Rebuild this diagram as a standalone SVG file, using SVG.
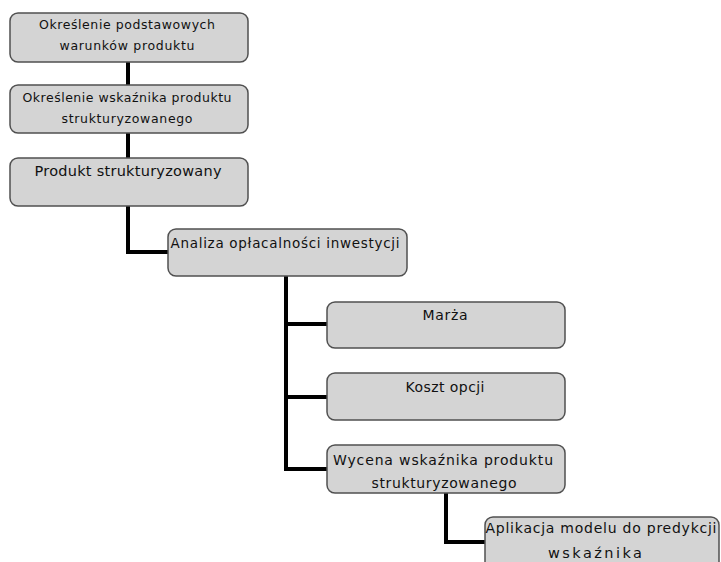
<svg xmlns="http://www.w3.org/2000/svg" width="721" height="562" viewBox="0 0 721 562">
<style>
.box{fill:#d4d4d4;stroke:#505050;stroke-width:1.5}
.t{font-family:"DejaVu Sans",Verdana,sans-serif;fill:#111;text-anchor:middle}
.c{fill:none;stroke:#000;stroke-width:4}
</style>
<rect width="721" height="562" fill="#fff"/>
<g id="connectors">
<path class="c" d="M128 62V85"/>
<path class="c" d="M128 133V158"/>
<path class="c" d="M128 206V252H168"/>
<path class="c" d="M286 276V469H327"/>
<path class="c" d="M286 324H327"/>
<path class="c" d="M286 397H327"/>
<path class="c" d="M446 493V542H485"/>
</g>
<g id="n1">
<rect class="box" x="10" y="13" width="238" height="49" rx="8"/>
<text class="t" x="127" y="29" font-size="12.5" textLength="176" lengthAdjust="spacing">Określenie podstawowych</text>
<text class="t" x="127" y="50" font-size="12.5" textLength="135" lengthAdjust="spacing">warunków produktu</text>
</g>
<g id="n2">
<rect class="box" x="10" y="85" width="238" height="48" rx="8"/>
<text class="t" x="127" y="102" font-size="12.5" textLength="209" lengthAdjust="spacing">Określenie wskaźnika produktu</text>
<text class="t" x="127" y="123" font-size="12.5" textLength="131" lengthAdjust="spacing">strukturyzowanego</text>
</g>
<g id="n3">
<rect class="box" x="10" y="158" width="238" height="48" rx="8"/>
<text class="t" x="128" y="176" font-size="14.5" textLength="187" lengthAdjust="spacing">Produkt strukturyzowany</text>
</g>
<g id="n4">
<rect class="box" x="168" y="229" width="239" height="47" rx="8"/>
<text class="t" x="285" y="248" font-size="13.5" textLength="229" lengthAdjust="spacing">Analiza opłacalności inwestycji</text>
</g>
<g id="n5">
<rect class="box" x="327" y="302" width="238" height="46" rx="8"/>
<text class="t" x="445" y="320" font-size="14" textLength="45" lengthAdjust="spacing">Marża</text>
</g>
<g id="n6">
<rect class="box" x="327" y="373" width="238" height="47" rx="8"/>
<text class="t" x="445" y="392" font-size="14" textLength="79" lengthAdjust="spacing">Koszt opcji</text>
</g>
<g id="n7">
<rect class="box" x="327" y="445" width="238" height="48" rx="8"/>
<text class="t" x="443" y="465" font-size="14" textLength="220" lengthAdjust="spacing">Wycena wskaźnika produktu</text>
<text class="t" x="444" y="488" font-size="14" textLength="145" lengthAdjust="spacing">strukturyzowanego</text>
</g>
<g id="n8">
<rect class="box" x="485" y="517" width="234" height="60" rx="8"/>
<text class="t" x="601" y="533" font-size="14" textLength="231" lengthAdjust="spacing">Aplikacja modelu do predykcji</text>
<text class="t" x="595" y="558" font-size="14.5" textLength="94" lengthAdjust="spacing">wskaźnika</text>
</g>
</svg>
